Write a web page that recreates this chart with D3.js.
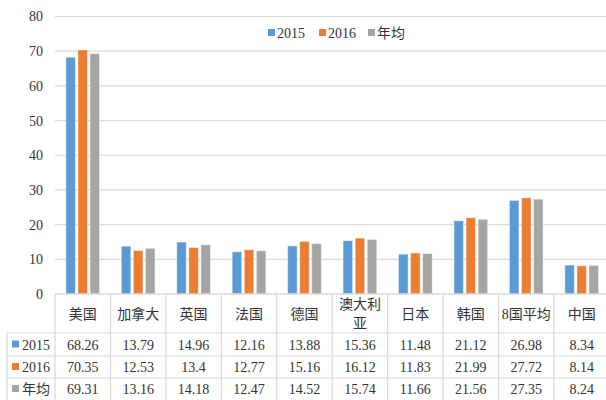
<!DOCTYPE html>
<html>
<head>
<meta charset="utf-8">
<script src="https://cdn.jsdelivr.net/npm/d3@7"></script>
<style>
  body { margin: 0; background: #fff; }
  svg { display: block; }
  svg text { font-family: "Liberation Serif", "Noto Sans CJK SC", serif !important; font-size: 14px; }
</style>
</head>
<body>
<svg width="606" height="400"></svg>
<script>
// data
const categories = ["美国", "加拿大", "英国", "法国", "德国", "澳大利亚", "日本", "韩国", "8国平均", "中国"];
const seriesNames = ["2015", "2016", "年均"];
const values2015 = [68.26, 13.79, 14.96, 12.16, 13.88, 15.36, 11.48, 21.12, 26.98, 8.34];
const values2016 = [70.35, 12.53, 13.4, 12.77, 15.16, 16.12, 11.83, 21.99, 27.72, 8.14];
const valuesAvg = [69.31, 13.16, 14.18, 12.47, 14.52, 15.74, 11.66, 21.56, 27.35, 8.24];
const yTicks = [0, 10, 20, 30, 40, 50, 60, 70, 80];
const colors = ["#5b9bd5", "#ed7d31", "#a5a5a5"];

const allSeries = [values2015, values2016, valuesAvg];

const svg = d3.select("svg");
const gridColor = "#d9d9d9";
const textColor = "#333";

// plot area
const plotLeft = 55, plotRight = 609.4, plotTop = 16.5, plotBottom = 294;

const x0 = d3.scaleBand()
    .domain(categories)
    .range([plotLeft, plotRight])
    .padding(0);

const x1 = d3.scaleBand()
    .domain(seriesNames)
    .range([0, 33.7])
    .paddingInner(0.21);

const y = d3.scaleLinear()
    .domain([0, 80])
    .range([plotBottom, plotTop]);

// grid lines
svg.append("g")
    .selectAll("line")
    .data(yTicks.filter(d => d > 0))
    .enter()
    .append("line")
    .attr("x1", plotLeft)
    .attr("x2", 606)
    .attr("y1", d => y(d))
    .attr("y2", d => y(d))
    .attr("stroke", gridColor)
    .attr("stroke-width", 1.2);

// y axis labels
const yAxis = d3.axisLeft(y).tickValues(yTicks).tickSize(0).tickPadding(12);
const yg = svg.append("g")
    .attr("transform", `translate(${plotLeft},0)`)
    .call(yAxis);
yg.select(".domain").remove();
yg.selectAll("text")
    .attr("fill", textColor);

// bars
const groups = svg.append("g")
    .selectAll("g")
    .data(categories)
    .enter()
    .append("g")
    .attr("transform", d => `translate(${x0(d) + x0.bandwidth() / 2 - 33.7 / 2},0)`);

groups.selectAll("rect")
    .data((d, i) => seriesNames.map((s, j) => ({ s: s, v: allSeries[j][i], c: colors[j] })))
    .enter()
    .append("rect")
    .attr("x", d => x1(d.s))
    .attr("y", d => y(d.v))
    .attr("width", x1.bandwidth())
    .attr("height", d => y(0) - y(d.v))
    .attr("fill", d => d.c)
    .attr("stroke", "#fff")
    .attr("stroke-opacity", 0.45)
    .attr("stroke-width", 1);

// legend
const legendItems = [
    { name: "2015", x: 268 },
    { name: "2016", x: 319 },
    { name: "年均", x: 368 }
];
const legend = svg.append("g");
legendItems.forEach((d, i) => {
    legend.append("rect")
        .attr("x", d.x)
        .attr("y", 29)
        .attr("width", 7)
        .attr("height", 7)
        .attr("fill", colors[i]);
    legend.append("text")
        .attr("x", d.x + 9)
        .attr("y", 38)
        .attr("fill", textColor)
        .text(d.name);
});

// data table
const rowTops = [294, 333, 356, 378, 400];
const tableLeft = 7;
const table = svg.append("g");

// horizontal lines
table.append("line")
    .attr("x1", plotLeft).attr("x2", 606)
    .attr("y1", plotBottom).attr("y2", plotBottom)
    .attr("stroke", gridColor).attr("stroke-width", 1.6);
rowTops.slice(1, 4).forEach(ty => {
    table.append("line")
        .attr("x1", tableLeft).attr("x2", 606)
        .attr("y1", ty).attr("y2", ty)
        .attr("stroke", gridColor).attr("stroke-width", 1.2);
});

// vertical lines
table.append("line")
    .attr("x1", tableLeft).attr("x2", tableLeft)
    .attr("y1", rowTops[1]).attr("y2", 400)
    .attr("stroke", gridColor).attr("stroke-width", 1.2);
table.selectAll(".vline")
    .data(categories)
    .enter()
    .append("line")
    .attr("class", "vline")
    .attr("x1", d => x0(d)).attr("x2", d => x0(d))
    .attr("y1", plotBottom).attr("y2", 400)
    .attr("stroke", gridColor).attr("stroke-width", 1.2);

// header labels
categories.forEach(c => {
    const cx = x0(c) + x0.bandwidth() / 2;
    const t = table.append("text")
        .attr("x", cx)
        .attr("text-anchor", "middle")
        .attr("fill", textColor)
        .text(c);
    if (t.node().getComputedTextLength() > x0.bandwidth() - 4) {
        t.text(null);
        const lines = [c.slice(0, 3), c.slice(3)];
        lines.forEach((l, k) => {
            t.append("tspan")
                .attr("x", cx)
                .attr("y", 309 + k * 19)
                .text(l);
        });
    } else {
        t.attr("y", 319);
    }
});

// row label cells and values
seriesNames.forEach((s, j) => {
    const cy = (rowTops[j + 1] + rowTops[j + 2]) / 2;
    table.append("rect")
        .attr("x", 12)
        .attr("y", cy - 4)
        .attr("width", 7)
        .attr("height", 7)
        .attr("fill", colors[j]);
    table.append("text")
        .attr("x", 22)
        .attr("y", cy + 5)
        .attr("fill", textColor)
        .text(s);
    categories.forEach((c, i) => {
        table.append("text")
            .attr("x", x0(c) + x0.bandwidth() / 2)
            .attr("y", cy + 5)
            .attr("text-anchor", "middle")
            .attr("fill", textColor)
            .text(allSeries[j][i]);
    });
});
</script>
</body>
</html>
